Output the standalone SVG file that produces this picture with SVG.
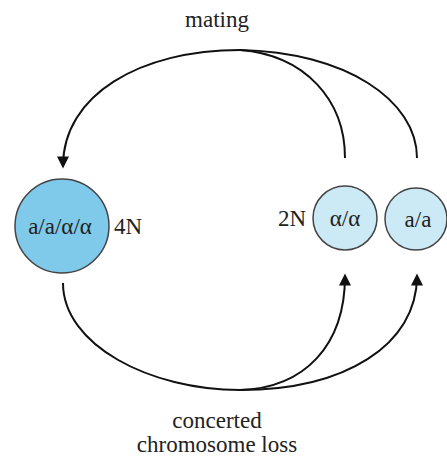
<svg xmlns="http://www.w3.org/2000/svg" width="447" height="462" viewBox="0 0 447 462">
  <defs>
    <marker id="arrow" viewBox="0 0 10 10" refX="8" refY="5" markerWidth="6.5" markerHeight="6" markerUnits="strokeWidth" orient="auto">
      <path d="M0,0 L10,5 L0,10 Z" fill="#111"/>
    </marker>
    <style>
      .edge { fill: none; stroke: #111; stroke-width: 2; }
      .cell { stroke: #444; stroke-width: 1.5; }
      .big { fill: #7fc9ea; }
      .small { fill: #cce9f6; }
    </style>
  </defs>
  <rect width="447" height="462" fill="#fff"/>

  <g id="connectors">
    <!-- mating: both diploids merge into the tetraploid -->
    <path class="edge" d="M240,50 C140,50 63,95 63,166" marker-end="url(#arrow)"/>
    <path class="edge" d="M240,50 C305,55 345,100 345,158"/>
    <path class="edge" d="M240,50 C345,52 417,100 417,158"/>
    <!-- concerted chromosome loss back to diploids -->
    <path class="edge" d="M63,283 C63,345 150,390 240,390"/>
    <path class="edge" d="M240,390 C305,388 345,345 345,276" marker-end="url(#arrow)"/>
    <path class="edge" d="M240,390 C345,390 417,345 417,276" marker-end="url(#arrow)"/>
  </g>

  <g font-family="Liberation Serif, serif" font-size="23" fill="#222">
    <g id="tetraploid">
      <circle class="cell big" cx="62" cy="226" r="47"/>
      <text x="60" y="234" text-anchor="middle">a/a/α/α</text>
      <text x="114" y="234">4N</text>
    </g>

    <g id="diploid-alpha">
      <text x="278" y="226">2N</text>
      <circle class="cell small" cx="345" cy="218" r="32"/>
      <text x="345" y="226" text-anchor="middle">α/α</text>
    </g>

    <g id="diploid-a">
      <circle class="cell small" cx="416" cy="219" r="31"/>
      <text x="418" y="227" text-anchor="middle">a/a</text>
    </g>

    <g id="labels">
      <text x="217" y="27" text-anchor="middle">mating</text>
      <text x="217" y="428" text-anchor="middle">concerted</text>
      <text x="217" y="452" text-anchor="middle">chromosome loss</text>
    </g>
  </g>
</svg>
